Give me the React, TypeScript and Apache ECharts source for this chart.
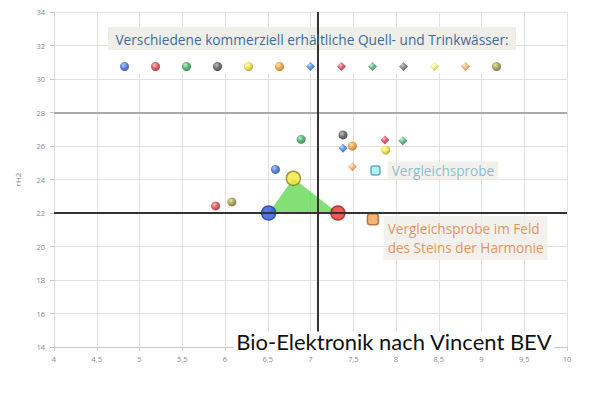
import React, { useEffect, useRef } from "react";
import * as echarts from "echarts";

// ---- data ----
const waterNames = [
  "Wasser 1", "Wasser 2", "Wasser 3", "Wasser 4", "Wasser 5", "Wasser 6",
  "Wasser 7", "Wasser 8", "Wasser 9", "Wasser 10", "Wasser 11", "Wasser 12", "Wasser 13",
];
const waterSymbols = [
  "circle", "circle", "circle", "circle", "circle", "circle",
  "diamond", "diamond", "diamond", "diamond", "diamond", "diamond", "circle",
];
const waterColors = [
  ["#9fc0ff", "#3a6fd0", "#1c3a8a"],
  ["#ffb0b8", "#d8404a", "#8a1a20"],
  ["#b0f0c0", "#3aa85a", "#1a6a30"],
  ["#b0b0b0", "#555555", "#222222"],
  ["#ffffc0", "#f0e030", "#a09010"],
  ["#ffe0a0", "#f09a30", "#b05a10"],
  ["#b0d0ff", "#3a7ad8", "#1a4a90"],
  ["#ffb0c0", "#d8304a", "#901828"],
  ["#b0f0d0", "#40a868", "#1a6a40"],
  ["#c0c0c0", "#707070", "#303030"],
  ["#ffffd0", "#eef070", "#a0a030"],
  ["#ffe0c0", "#f0a860", "#b06a20"],
  ["#e0e0a0", "#a09a40", "#5a5520"],
];
// one point per water (null = not visible in the chart)
const waterX: (number | null)[] = [6.59, 5.89, 6.89, 7.38, 7.88, 7.49, 7.38, 7.87, 8.08, null, null, 7.49, 6.08];
const waterY: (number | null)[] = [24.6, 22.42, 26.4, 26.66, 25.76, 26.0, 25.86, 26.36, 26.32, null, null, 24.76, 22.66];

const triX = [6.51, 6.8, 7.32];
const triY = [22.0, 24.07, 22.0];
const triColors = [
  ["#2b55e0", "#1a3aa0"],
  ["#f3e840", "#8a7a20"],
  ["#e83030", "#a01818"],
];

const refX = [7.76];
const refY = [24.53];
const fieldX = [7.73];
const fieldY = [21.62];

const hLineY = 22;
const hLine2Y = 28;
const vLineX = 7.08;

const xTicks = { min: 4, max: 10, interval: 0.5 };
const yTicks = { min: 14, max: 34, interval: 2 };

const legendTitle = "Verschiedene kommerziell erhältliche Quell- und Trinkwässer:";
const refLabel = "Vergleichsprobe";
const fieldLabel = "Vergleichsprobe im Feld\ndes Steins der Harmonie";
const footer = "Bio-Elektronik nach Vincent BEV";

const FONT = "'Open Sans', Lato, sans-serif";
const FOOT_FONT = "Lato, 'Open Sans', sans-serif";

function sphere(c: string[]) {
  return new echarts.graphic.RadialGradient(0.38, 0.35, 0.7, [
    { offset: 0, color: c[0] },
    { offset: 0.45, color: c[1] },
    { offset: 1, color: c[2] },
  ]);
}

export default function App() {
  const ref = useRef<HTMLDivElement>(null);
  useEffect(() => {
    document.body.style.margin = "0";
    const chart = echarts.init(ref.current!, null, { renderer: "svg" });

    const waterSeries = waterNames.map((name, i) => ({
      name,
      type: "scatter",
      symbol: waterSymbols[i],
      symbolSize: 9,
      itemStyle: { color: sphere(waterColors[i]) },
      data: waterX[i] == null ? [] : [[waterX[i], waterY[i]]],
      z: 3,
    }));

    const option: any = {
      animation: false,
      textStyle: { fontFamily: FONT },
      grid: { left: 54, right: 39, top: 12, bottom: 47 },
      xAxis: {
        type: "value",
        ...xTicks,
        axisLine: { show: true, lineStyle: { color: "#c8c8c8" } },
        axisTick: { show: true, length: 4, lineStyle: { color: "#c8c8c8" } },
        splitLine: { show: true, lineStyle: { color: "#e2e2e2" } },
        axisLabel: {
          color: "#8a8a8a",
          fontSize: 7.5,
          margin: 8,
          formatter: (v: number) => String(v).replace(".", ","),
        },
      },
      yAxis: {
        type: "value",
        ...yTicks,
        name: "rH2",
        nameLocation: "middle",
        nameGap: 33,
        nameTextStyle: { color: "#8a8a8a", fontSize: 8 },
        axisLine: { show: true, lineStyle: { color: "#d8d8d8" } },
        axisTick: { show: true, length: 4, lineStyle: { color: "#c8c8c8" } },
        splitLine: { show: true, lineStyle: { color: "#e2e2e2" } },
        axisLabel: { color: "#8a8a8a", fontSize: 7.5, margin: 9 },
      },
      legend: {
        data: waterNames,
        top: 57,
        left: 115,
        itemWidth: 9,
        itemHeight: 9,
        itemGap: 22,
        formatter: () => "",
        textStyle: { fontSize: 1 },
        selectedMode: false,
        z: 6,
      },
      series: [
        {
          name: "lines",
          type: "scatter",
          data: [],
          markLine: {
            silent: true,
            symbol: "none",
            label: { show: false },
            data: [
              { yAxis: hLine2Y, lineStyle: { color: "#a8a8a8", width: 2, type: "solid" } },
              { yAxis: hLineY, lineStyle: { color: "#333333", width: 2, type: "solid" } },
              { xAxis: vLineX, lineStyle: { color: "#333333", width: 2, type: "solid" } },
            ],
          },
          z: 2,
        },
        {
          name: "triangle",
          type: "custom",
          data: triX.map((x, i) => [x, triY[i]]),
          encode: { x: 0, y: 1 },
          renderItem: (params: any, api: any) => {
            if (params.dataIndex !== 0) return null;
            const pts = triX.map((x, i) => api.coord([x, triY[i]]));
            return {
              type: "polygon",
              shape: { points: pts },
              style: { fill: "rgba(95,215,80,0.78)", stroke: "none" },
            };
          },
          z: 3,
        },
        {
          name: "triangle points",
          type: "scatter",
          symbolSize: 14,
          data: triX.map((x, i) => ({
            value: [x, triY[i]],
            itemStyle: { color: triColors[i][0], borderColor: triColors[i][1], borderWidth: 1.5 },
          })),
          z: 4,
        },
        {
          name: refLabel,
          type: "scatter",
          symbol: "roundRect",
          symbolSize: 9,
          itemStyle: { color: "#a0eef0", borderColor: "#4a9aa8", borderWidth: 1.5 },
          data: refX.map((x, i) => [x, refY[i]]),
          label: {
            show: true,
            position: "right",
            distance: 7,
            formatter: refLabel,
            color: "#6cb2c8",
            fontSize: 13.6,
            fontFamily: FONT,
            backgroundColor: "#efeee8",
            padding: [2, 4, 2, 4],
          },
          z: 4,
        },
        {
          name: "Feld",
          type: "scatter",
          symbol: "roundRect",
          symbolSize: 11,
          itemStyle: { color: "#f0a050", borderColor: "#a0602a", borderWidth: 1.5 },
          data: fieldX.map((x, i) => [x, fieldY[i]]),
          label: {
            show: true,
            position: [17, 3],
            align: "left",
            verticalAlign: "top",
            formatter: fieldLabel,
            color: "#e07a38",
            fontSize: 13.6,
            lineHeight: 19,
            fontFamily: FONT,
            backgroundColor: "#efeee8",
            padding: [3, 4, 3, 4],
          },
          z: 4,
        },
        ...waterSeries,
      ],
      graphic: [
        {
          type: "rect",
          shape: { x: 108, y: 27, width: 408, height: 23 },
          style: { fill: "#efeee8" },
          z: 5,
        },
        {
          type: "rect",
          shape: { x: 108, y: 50, width: 408, height: 23 },
          style: { fill: "#ffffff" },
          z: 5,
        },
        {
          type: "text",
          x: 312,
          y: 39,
          style: {
            text: legendTitle,
            fill: "#3d6c9c",
            fontSize: 13.7,
            fontFamily: FONT,
            align: "center",
            verticalAlign: "middle",
          },
          z: 6,
        },
        {
          type: "text",
          x: 394,
          y: 341,
          style: {
            text: footer,
            fill: "#111111",
            fontSize: 22,
            lineHeight: 19,
            fontFamily: FOOT_FONT,
            align: "center",
            verticalAlign: "middle",
            backgroundColor: "#ffffff",
            padding: [0, 2, 0, 2],
          },
          z: 6,
        },
      ],
    };
    chart.setOption(option);
    return () => chart.dispose();
  }, []);
  return <div ref={ref} style={{ width: 606, height: 394 }} />;
}
